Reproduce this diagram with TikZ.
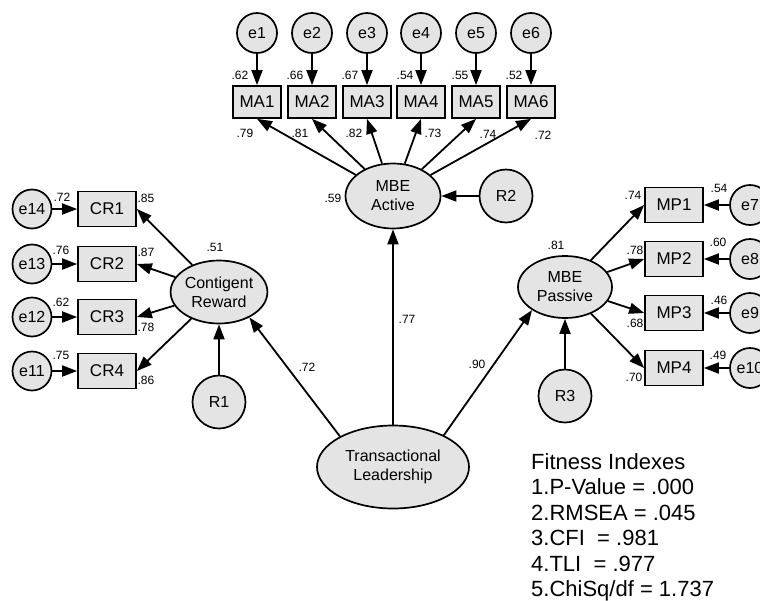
\documentclass[tikz,border=0pt]{standalone}
\usepackage{fontspec}
\setmainfont{Liberation Sans}
\usetikzlibrary{shapes.geometric,arrows.meta}
\definecolor{nodegray}{RGB}{228,228,228}
\tikzset{
  latent/.style={ellipse,draw,line width=1.7pt,fill=nodegray,inner sep=0pt,
    align=center,font=\fontsize{16}{19}\selectfont},
  obs/.style={rectangle,draw,line width=1.7pt,fill=nodegray,inner sep=0pt,
    minimum width=58pt,minimum height=35pt,font=\fontsize{17}{19}\selectfont},
  err/.style={circle,draw,line width=1.7pt,fill=nodegray,inner sep=0pt,
    minimum size=40pt,font=\fontsize{16}{19}\selectfont},
  res/.style={err,minimum size=53pt},
  arr/.style={-{Triangle[length=15pt,width=11pt]},line width=1.8pt},
  coef/.style={inner sep=0pt,font=\fontsize{12}{14}\selectfont}
}

\begin{document}
\begin{tikzpicture}[x=1pt,y=-1pt]
\useasboundingbox (0,0) rectangle (760,600);

% latent variables
\node[latent,minimum width=95pt,minimum height=65pt] (act) at (393,196) {MBE\\Active};
\node[latent,minimum width=95pt,minimum height=63pt] (cr) at (219,292) {Contigent\\Reward};
\node[latent,minimum width=94pt,minimum height=62pt] (pas) at (565,287) {MBE\\Passive};
\node[latent,minimum width=152pt,minimum height=83pt] (tl) at (393,467) {Transactional\\Leadership};
\node[res] (R1) at (219,402) {R1};
\node[res] (R2) at (506,196) {R2};
\node[res] (R3) at (565,396) {R3};

% MBE Active indicators
\node[err] (e1) at (257,33) {e1};
\node[err] (e2) at (312,33) {e2};
\node[err] (e3) at (367,33) {e3};
\node[err] (e4) at (421,33) {e4};
\node[err] (e5) at (476,33) {e5};
\node[err] (e6) at (531,33) {e6};
\node[obs,minimum width=48pt,minimum height=32pt] (MA1) at (257,102) {MA1};
\node[obs,minimum width=48pt,minimum height=32pt] (MA2) at (312,102) {MA2};
\node[obs,minimum width=48pt,minimum height=32pt] (MA3) at (367,102) {MA3};
\node[obs,minimum width=48pt,minimum height=32pt] (MA4) at (421,102) {MA4};
\node[obs,minimum width=48pt,minimum height=32pt] (MA5) at (476,102) {MA5};
\node[obs,minimum width=48pt,minimum height=32pt] (MA6) at (531,102) {MA6};

% Contigent Reward indicators
\node[obs] (CR1) at (107,209) {CR1};
\node[obs] (CR2) at (107,264) {CR2};
\node[obs] (CR3) at (107,317) {CR3};
\node[obs] (CR4) at (107,371) {CR4};
\node[err,minimum size=39pt] (e14) at (32,209) {e14};
\node[err,minimum size=39pt] (e13) at (32,264) {e13};
\node[err,minimum size=39pt] (e12) at (32,317) {e12};
\node[err,minimum size=39pt] (e11) at (32,371) {e11};

% MBE Passive indicators
\node[obs] (MP1) at (674,205) {MP1};
\node[obs] (MP2) at (674,259) {MP2};
\node[obs] (MP3) at (674,313) {MP3};
\node[obs] (MP4) at (674,368) {MP4};
\node[err] (e7) at (750,205) {e7};
\node[err] (e8) at (750,259) {e8};
\node[err] (e9) at (750,313) {e9};
\node[err] (e10) at (750,368) {e10};

% paths
\draw[arr] (e1) -- (MA1);
\draw[arr] (e2) -- (MA2);
\draw[arr] (e3) -- (MA3);
\draw[arr] (e4) -- (MA4);
\draw[arr] (e5) -- (MA5);
\draw[arr] (e6) -- (MA6);
\draw[arr] (act) -- (MA1.south);
\draw[arr] (act) -- (MA2.south);
\draw[arr] (act) -- (MA3.south);
\draw[arr] (act) -- (MA4.south);
\draw[arr] (act) -- (MA5.south);
\draw[arr] (act) -- (MA6.south);
\draw[arr] (R2) -- (act);

\draw[arr] (e14) -- (CR1);
\draw[arr] (e13) -- (CR2);
\draw[arr] (e12) -- (CR3);
\draw[arr] (e11) -- (CR4);
\draw[arr] (cr) -- (CR1.east);
\draw[arr] (cr) -- (CR2.east);
\draw[arr] (cr) -- (CR3.east);
\draw[arr] (cr) -- (CR4.east);
\draw[arr] (R1) -- (cr);

\draw[arr] (e7) -- (MP1);
\draw[arr] (e8) -- (MP2);
\draw[arr] (e9) -- (MP3);
\draw[arr] (e10) -- (MP4);
\draw[arr] (pas) -- (MP1.west);
\draw[arr] (pas) -- (MP2.west);
\draw[arr] (pas) -- (MP3.west);
\draw[arr] (pas) -- (MP4.west);
\draw[arr] (R3) -- (pas);

\draw[arr] (tl.150) -- (cr.-40);
\draw[arr] (tl) -- (act);
\draw[arr] (tl.32) -- (pas.215);

% estimates
\node[coef] (sq1) at (240,75) {.62};
\node[coef] (sq2) at (295,75) {.66};
\node[coef] (sq3) at (350,75) {.67};
\node[coef] (sq4) at (405,75) {.54};
\node[coef] (sq5) at (460,75) {.55};
\node[coef] (sq6) at (514,75) {.52};
\node[coef] (ld1) at (245,133) {.79};
\node[coef] (ld2) at (300,133) {.81};
\node[coef] (ld3) at (354,133) {.82};
\node[coef] (ld4) at (433,133) {.73};
\node[coef] (ld5) at (488,134) {.74};
\node[coef] (ld6) at (543,135) {.72};
\node[coef] (sqact) at (333,198) {.59};

\node[coef] (sq14) at (62,197) {.72};
\node[coef] (sq13) at (61,250) {.76};
\node[coef] (sq12) at (61,302) {.62};
\node[coef] (sq11) at (61,355) {.75};
\node[coef] (ld14) at (146,198) {.85};
\node[coef] (ld13) at (146,252) {.87};
\node[coef] (ld12) at (146,327) {.78};
\node[coef] (ld11) at (146,380) {.86};
\node[coef] (sqcr) at (215,247) {.51};

\node[coef] (sq7) at (719,188) {.54};
\node[coef] (sq8) at (718,242) {.60};
\node[coef] (sq9) at (719,300) {.46};
\node[coef] (sq10) at (718,355) {.49};
\node[coef] (ld7) at (633,195) {.74};
\node[coef] (ld8) at (635,250) {.78};
\node[coef] (ld9) at (635,323) {.68};
\node[coef] (ld10) at (634,377) {.70};
\node[coef] (sqpas) at (556,245) {.81};

\node[coef] (ldcr) at (307,367) {.72};
\node[coef] (ldact) at (407,319) {.77};
\node[coef] (ldpas) at (477,364) {.90};

% fit
\node[anchor=north west,inner sep=0pt,align=left,font=\fontsize{22}{25.5}\selectfont]
  (fit) at (531,453) {Fitness Indexes\\1.P-Value = .000\\2.RMSEA = .045\\3.CFI\ \ = .981\\4.TLI\ \ = .977\\5.ChiSq/df = 1.737};
\end{tikzpicture}
\end{document}
